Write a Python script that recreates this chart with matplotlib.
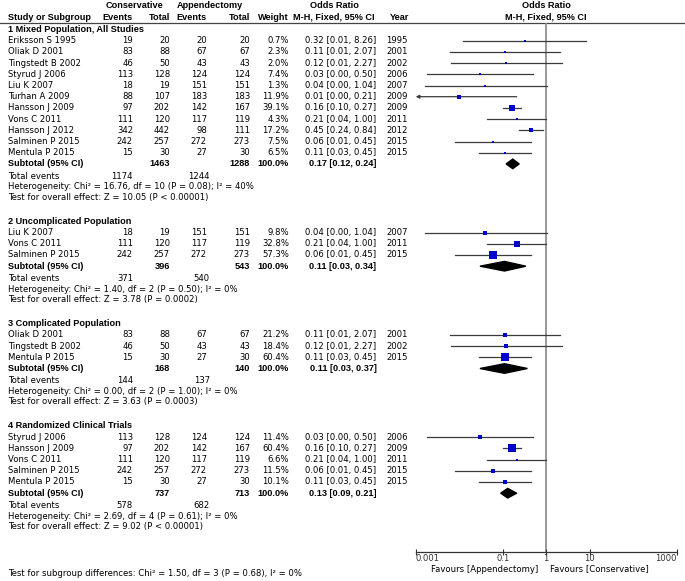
import matplotlib
matplotlib.use("Agg")
import matplotlib.pyplot as plt
from matplotlib.patches import Polygon
import numpy as np

# studies (one entry per trial)
names = ["Eriksson S 1995", "Oliak D 2001", "Tingstedt B 2002", "Styrud J 2006", "Liu K 2007",
         "Turhan A 2009", "Hansson J 2009", "Vons C 2011", "Hansson J 2012", "Salminen P 2015",
         "Mentula P 2015"]
cons_events = [19, 83, 46, 113, 18, 88, 97, 111, 342, 242, 15]
cons_total = [20, 88, 50, 128, 19, 107, 202, 120, 442, 257, 30]
app_events = [20, 67, 43, 124, 151, 183, 142, 117, 98, 272, 27]
app_total = [20, 67, 43, 124, 151, 183, 167, 119, 111, 273, 30]
years = [1995, 2001, 2002, 2006, 2007, 2009, 2009, 2011, 2012, 2015, 2015]
or_est = [0.32, 0.11, 0.12, 0.03, 0.04, 0.01, 0.16, 0.21, 0.45, 0.06, 0.11]
or_lo = [0.0125, 0.006, 0.0065, 0.0018, 0.0016, 0.0005, 0.10, 0.044, 0.24, 0.0079, 0.028]
or_hi = [8.26, 2.07, 2.27, 0.50, 1.04, 0.21, 0.27, 1.00, 0.84, 0.45, 0.45]

# subgroups
group_titles = ["1 Mixed Population, All Studies", "2 Uncomplicated Population",
                "3 Complicated Population", "4 Randomized Clinical Trials"]
group_members = [[0, 1, 2, 3, 4, 5, 6, 7, 8, 9, 10], [4, 7, 9], [1, 2, 10], [3, 6, 7, 9, 10]]
group_weights = [[0.7, 2.3, 2.0, 7.4, 1.3, 11.9, 39.1, 4.3, 17.2, 7.5, 6.5],
                 [9.8, 32.8, 57.3], [21.2, 18.4, 60.4], [11.4, 60.4, 6.6, 11.5, 10.1]]
sub_cons_total = [1463, 396, 168, 737]
sub_app_total = [1288, 543, 140, 713]
sub_cons_events = [1174, 371, 144, 578]
sub_app_events = [1244, 540, 137, 682]
sub_or = [0.17, 0.11, 0.11, 0.13]
sub_lo = [0.12, 0.03, 0.03, 0.09]
sub_hi = [0.24, 0.34, 0.37, 0.21]
het_chi = ["16.76", "1.40", "0.00", "2.69"]
het_df = [10, 2, 2, 4]
het_p = ["0.08", "0.50", "1.00", "0.61"]
het_i2 = [40, 0, 0, 0]
z_val = ["10.05", "3.78", "3.63", "9.02"]
z_p = ["< 0.00001", "= 0.0002", "= 0.0003", "< 0.00001"]

tick_vals = [0.001, 0.1, 1, 10, 1000]
tick_labels = ["0.001", "0.1", "1", "10", "1000"]

W, H = 685, 581
FS = 6.1
BFS = 6.6
plt.rcParams["font.family"] = "DejaVu Sans"
fig = plt.figure(figsize=(W / 100, H / 100), dpi=100)

ax0 = fig.add_axes([0, 0, 1, 1])
ax0.set_xlim(0, W)
ax0.set_ylim(H, 0)
ax0.axis("off")

x_left = 415.7
x_right = 676.7
ax = fig.add_axes([x_left / W, 0, (x_right - x_left) / W, 1])
ax.set_facecolor("none")
ax.set_xscale("log")
ax.set_xlim(0.001, 1000)
ax.set_ylim(H, 0)
for s in ["top", "left", "right"]:
    ax.spines[s].set_visible(False)
ax.spines["bottom"].set_position(("data", 552))
ax.spines["bottom"].set_color("#333333")
ax.spines["bottom"].set_linewidth(0.9)
ax.set_yticks([])
ax.set_xticks(tick_vals)
ax.set_xticklabels(tick_labels)
ax.minorticks_off()
ax.tick_params(axis="x", direction="inout", length=5, width=0.8, labelsize=FS, pad=-1, colors="#333333")
lbls = ax.get_xticklabels()
lbls[0].set_ha("left")
lbls[-1].set_ha("right")

# column positions
c_name = 8
c_ce, c_ct, c_ae, c_at, c_w, c_or, c_yr = 133, 170, 207, 250, 289, 341, 386

def txt(x, y, s, ha="left", bold=False):
    if bold:
        ax0.text(x, y, s, ha=ha, va="center", fontsize=BFS, color="black",
                 fontweight="bold", family="Liberation Sans")
    else:
        ax0.text(x, y, s, ha=ha, va="center", fontsize=FS, color="black")

# header
txt(135, 6, "Conservative", "center", True)
txt(210, 6, "Appendectomy", "center", True)
txt(334, 6, "Odds Ratio", "center", True)
txt(546, 6, "Odds Ratio", "center", True)
txt(c_name, 17, "Study or Subgroup", bold=True)
txt(c_ce, 17, "Events", "right", True)
txt(c_ct, 17, "Total", "right", True)
txt(c_ae, 17, "Events", "right", True)
txt(c_at, 17, "Total", "right", True)
txt(c_w, 17, "Weight", "right", True)
txt(334, 17, "M-H, Fixed, 95% CI", "center", True)
txt(c_yr + 4, 17, "Year", bold=True)
txt(546, 17, "M-H, Fixed, 95% CI", "center", True)
ax0.plot([0, W], [23, 23], color="#444444", lw=0.9)

ci_col = "#3a3a3a"
y = 29.5
for g in range(4):
    txt(c_name, y, group_titles[g], bold=True)
    y += 11.2
    for idx, w in zip(group_members[g], group_weights[g]):
        txt(c_name, y, names[idx])
        txt(c_ce, y, str(cons_events[idx]), "right")
        txt(c_ct, y, str(cons_total[idx]), "right")
        txt(c_ae, y, str(app_events[idx]), "right")
        txt(c_at, y, str(app_total[idx]), "right")
        txt(c_w, y, f"{w:.1f}%", "right")
        txt(c_or, y, f"{or_est[idx]:.2f} [{or_lo[idx]:.2f}, {or_hi[idx]:.2f}]", "center")
        txt(c_yr, y, str(years[idx]))
        lo = or_lo[idx]
        if lo < 0.001:
            ax.annotate("", xy=(0.001, y), xytext=(or_hi[idx], y),
                        arrowprops=dict(arrowstyle="-|>", color=ci_col, lw=0.9,
                                        mutation_scale=5, shrinkA=0, shrinkB=0))
        else:
            ax.plot([lo, or_hi[idx]], [y, y], color=ci_col, lw=0.9)
        side_pt = max(2.2, 1.07 * np.sqrt(w)) * 0.72
        ax.scatter([or_est[idx]], [y], marker="s", s=side_pt ** 2, color="#0000cc",
                   linewidths=0, zorder=3)
        y += 11.2
    # subtotal
    txt(c_name, y, "Subtotal (95% CI)", bold=True)
    txt(c_ct, y, str(sub_cons_total[g]), "right", True)
    txt(c_at, y, str(sub_app_total[g]), "right", True)
    txt(c_w, y, "100.0%", "right", True)
    txt(c_or + 2, y, f"{sub_or[g]:.2f} [{sub_lo[g]:.2f}, {sub_hi[g]:.2f}]", "center", True)
    ax.add_patch(Polygon([(sub_lo[g], y), (sub_or[g], y - 4.8), (sub_hi[g], y), (sub_or[g], y + 4.8)],
                         closed=True, color="black", zorder=3))
    y += 12.5
    txt(c_name, y, "Total events")
    txt(c_ce, y, str(sub_cons_events[g]), "right")
    txt(c_ae + 3, y, str(sub_app_events[g]), "right")
    y += 10.5
    txt(c_name, y, f"Heterogeneity: Chi² = {het_chi[g]}, df = {het_df[g]} (P = {het_p[g]}); I² = {het_i2[g]}%")
    y += 10.5
    txt(c_name, y, f"Test for overall effect: Z = {z_val[g]} (P {z_p[g]})")
    y += 24

ax.vlines(1, 23, 552, color="#888888", lw=1.2, zorder=1)

txt(538, 569, "Favours [Appendectomy]", "right")
txt(550, 569, "Favours [Conservative]")
txt(c_name, 574, "Test for subgroup differences: Chi² = 1.50, df = 3 (P = 0.68), I² = 0%")

fig.savefig("out.png", dpi=100)
